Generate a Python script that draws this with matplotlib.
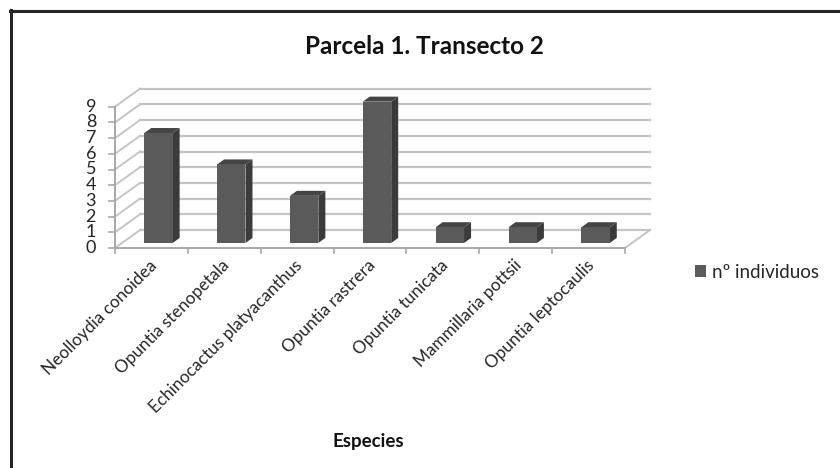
import matplotlib
matplotlib.use("Agg")
import matplotlib.pyplot as plt
from matplotlib.patches import Polygon, Patch
from matplotlib.lines import Line2D

especies = ["Neolloydia conoidea", "Opuntia stenopetala", "Echinocactus platyacanthus",
            "Opuntia rastrera", "Opuntia tunicata", "Mammillaria pottsii",
            "Opuntia leptocaulis"]
individuos = [7, 5, 3, 9, 1, 1, 1]
valores_eje = list(range(0, 10))
titulo = "Parcela 1. Transecto 2"
serie = "nº individuos"
etiqueta_x = "Especies"

plt.rcParams['font.family'] = ['Lato', 'DejaVu Sans']

W, H = 840, 468
fig = plt.figure(figsize=(W / 100, H / 100), dpi=100)

# front plane of the 3-D box, in pixels from the top-left corner
L, R, B, T = 115, 625, 248, 106.7
ax = fig.add_axes([L / W, 1 - B / H, (R - L) / W, (B - T) / H])
n = len(especies)
ymax = max(valores_eje)
ax.set_xlim(-0.5, n - 0.5)
ax.set_ylim(0, ymax)
ax.axis('off')

# oblique depth direction (pixels) converted to data units
ux = (R - L) / n
uy = (B - T) / ymax
DX = 25 / ux
DY = 18 / uy


def P(x, y, d):
    return (x + d * DX, y + d * DY)


GRID = '#c4c4c4'
AXC = '#a8a8a8'
TXT = '#262626'
xl, xr = -0.5, n - 0.5

# back wall gridlines and left wall diagonals
for v in valores_eje:
    (a, b), (c, e) = P(xl, v, 1), P(xr, v, 1)
    ax.plot([a, c], [b, e], color=GRID, lw=1.6, clip_on=False, zorder=1)
    (a, b), (c, e) = P(xl, v, 0), P(xl, v, 1)
    ax.plot([a, c], [b, e], color=GRID, lw=1.4, clip_on=False, zorder=1)

# floor right edge
(a, b), (c, e) = P(xr, 0, 0), P(xr, 0, 1)
ax.plot([a, c], [b, e], color=GRID, lw=1.4, clip_on=False, zorder=1)

# front axes lines and ticks
ax.plot([xl, xr], [0, 0], color=AXC, lw=1.4, clip_on=False, zorder=2)
ax.plot([xl, xl], [0, ymax], color=AXC, lw=1.4, clip_on=False, zorder=2)
tk = 6 / ux
for v in valores_eje:
    ax.plot([xl - tk, xl], [v, v], color=AXC, lw=1.2, clip_on=False, zorder=2)
    ax.annotate(str(v), (xl, v), xytext=(-19, 0), textcoords='offset pixels',
                ha='right', va='center', fontsize=13, color=TXT)
tky = 5 / uy
for k in range(n + 1):
    ax.plot([xl + k, xl + k], [0, -tky], color=AXC, lw=1.2, clip_on=False, zorder=2)

# 3-D columns
bw = 0.39
d0, d1 = 0.28, 0.56
for i, v in enumerate(individuos):
    x0, x1 = i - bw / 2, i + bw / 2
    front = [P(x0, 0, d0), P(x1, 0, d0), P(x1, v, d0), P(x0, v, d0)]
    side = [P(x1, 0, d0), P(x1, 0, d1), P(x1, v, d1), P(x1, v, d0)]
    top = [P(x0, v, d0), P(x1, v, d0), P(x1, v, d1), P(x0, v, d1)]
    ax.add_patch(Polygon(side, closed=True, facecolor='#3b3b3b', edgecolor='none',
                         clip_on=False, zorder=3))
    ax.add_patch(Polygon(top, closed=True, facecolor='#454545', edgecolor='none',
                         clip_on=False, zorder=3))
    ax.add_patch(Polygon(front, closed=True, facecolor='#5a5a5a', edgecolor='none',
                         clip_on=False, zorder=4))

# category labels
for i, name in enumerate(especies):
    ax.annotate(name, (i, 0), xytext=(3, -15), textcoords='offset pixels',
                ha='right', va='center', rotation=45, rotation_mode='anchor',
                fontsize=12.3, color=TXT)

fig.text(424 / W, 1 - 47 / H, titulo, ha='center', va='center',
         fontsize=17.5, fontweight='bold', color='#111111')
fig.text(368 / W, 1 - 442 / H, etiqueta_x, ha='center', va='center',
         fontsize=13.5, fontweight='bold', color='#111111')

fig.legend(handles=[Patch(facecolor='#5a5a5a', edgecolor='none', label=serie)],
           loc='center left', bbox_to_anchor=(695 / W, 1 - 272 / H),
           frameon=False, handlelength=0.6, handleheight=0.6,
           handletextpad=0.3, fontsize=13.5, borderaxespad=0, borderpad=0,
           labelcolor=TXT)

# chart frame (top and left edges)
fig.add_artist(Line2D([10 / W, 1], [1 - 11 / H, 1 - 11 / H], color='#262626',
                      lw=2.2, transform=fig.transFigure))
fig.add_artist(Line2D([11 / W, 11 / W], [0, 1 - 10 / H], color='#262626',
                      lw=2.2, transform=fig.transFigure))

fig.savefig('out.png', dpi=100)
